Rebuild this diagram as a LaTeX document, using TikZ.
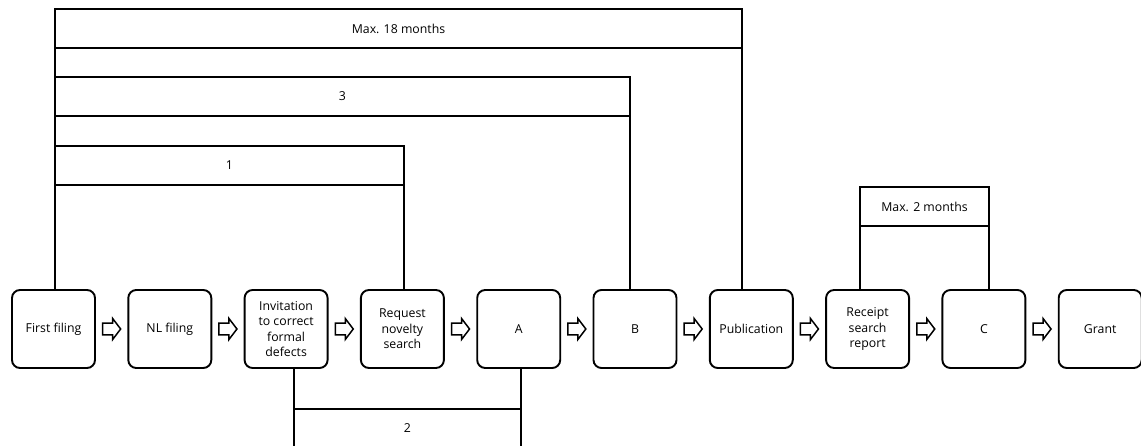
\documentclass[tikz,border=0pt]{standalone}
\usepackage{fontspec}
\setmainfont{Open Sans}
\usetikzlibrary{calc}
\begin{document}
\begin{tikzpicture}[x=1pt,y=-1pt,
  box/.style={draw,line width=1.9pt,rounded corners=8pt,minimum width=83pt,minimum height=78pt,
    align=center,inner sep=2pt,outer sep=0pt,font=\fontsize{12.3}{15.5}\selectfont},
  span/.style={draw,line width=1.9pt,outer sep=0pt,inner sep=0pt,minimum height=39pt,
    font=\fontsize{12.3}{15.5}\selectfont},
  conn/.style={line width=1.9pt},
  blk/.style={draw,line width=1.5pt,fill=white,line join=miter}]
\clip (0,0) rectangle (1141,446);
\fill[white] (0,0) rectangle (1141,446);
% process boxes
\node[box] (ff)  at (53.5,329)   {First filing};
\node[box] (nl)  at (169.8,329)  {NL filing};
\node[box] (inv) at (286.1,329)  {Invitation\\to correct\\formal\\defects};
\node[box] (rn)  at (402.4,329)  {Request\\novelty\\search};
\node[box] (a)   at (518.7,329)  {A};
\node[box] (b)   at (635,329)    {B};
\node[box] (pub) at (751.3,329)  {Publication};
\node[box] (rsr) at (867.6,329)  {Receipt\\search\\report};
\node[box] (c)   at (983.9,329)  {C};
\node[box] (gr)  at (1100.2,329) {Grant};
% period brackets
\node[span,minimum width=687pt] (s18) at (398.5,28.5)  {Max. 18 months};
\node[span,minimum width=575pt] (s3)  at (342.5,96.5)  {3};
\node[span,minimum width=349pt] (s1)  at (229.5,165.5) {1};
\node[span,minimum width=129pt] (s2m) at (924.5,206.5) {Max. 2 months};
\node[span,minimum width=227pt] (s2)  at (407.5,428.5) {2};
% bracket legs
\draw[conn] (ff.north -| s18.west) -- (s18.north west);
\draw[conn] (rn.north -| s1.east) -- (s1.south east);
\draw[conn] (b.north -| s3.east) -- (s3.south east);
\draw[conn] (pub.north -| s18.east) -- (s18.south east);
\draw[conn] (rsr.north -| s2m.west) -- (s2m.south west);
\draw[conn] (c.north -| s2m.east) -- (s2m.south east);
\draw[conn] (inv.south -| s2.west) -- (s2.north west);
\draw[conn] (a.south -| s2.east) -- (s2.north east);
% block arrows
\foreach \p/\q in {ff/nl,nl/inv,inv/rn,rn/a,a/b,b/pub,pub/rsr,rsr/c,c/gr}
  \draw[blk] ($(\p.east)!0.5!(\q.west)$) ++(-9,-5.8) -- ++(10,0) -- ++(0,-4.7)
     -- ++(8,10.5) -- ++(-8,10.5) -- ++(0,-4.7) -- ++(-10,0) -- cycle;
\end{tikzpicture}
\end{document}
